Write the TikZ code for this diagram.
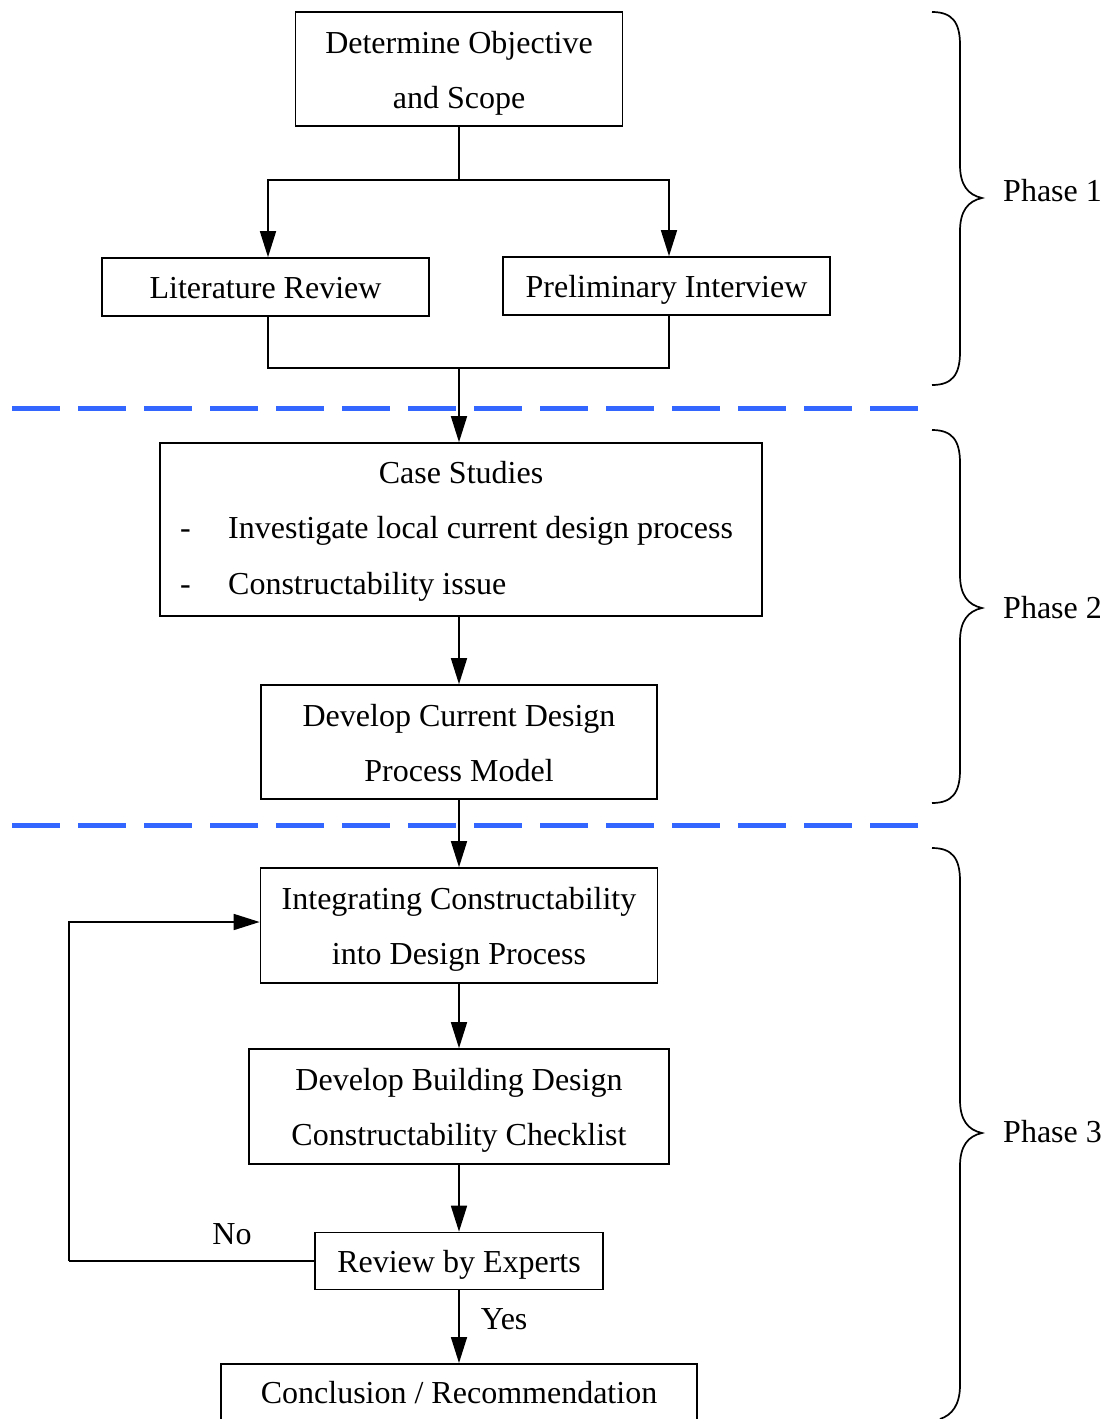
\documentclass[tikz,border=0pt]{standalone}
\usepackage{fontspec}
\setmainfont{Liberation Serif}
\usetikzlibrary{arrows.meta}
\definecolor{dashblue}{RGB}{51,102,255}
\newcommand{\mystrut}{\rule[-8pt]{0pt}{39pt}}
\begin{document}
\begin{tikzpicture}[x=1pt,y=-1pt,
  font=\fontsize{32}{55}\selectfont,
  box/.style={draw,line width=1.7pt,inner sep=0pt,align=center},
  conn/.style={line width=1.7pt},
  arr/.style={conn,-{Triangle[length=26pt,width=16pt]}},
  phasesep/.style={dashblue,line width=5pt,dash pattern=on 48pt off 18pt},
  bracestyle/.style={line width=1.7pt},
  lbl/.style={inner sep=0pt}]
\useasboundingbox (0,0) rectangle (1113,1419);

% boxes
\node[box,minimum width=327,minimum height=114] (obj) at (459,69) {\mystrut Determine Objective\\\mystrut and Scope};
\node[box,minimum width=327,minimum height=58] (lit) at (265.5,287) {\mystrut Literature Review};
\node[box,minimum width=327,minimum height=58] (pre) at (666.5,286) {\mystrut Preliminary Interview};
\node[box,minimum width=602,minimum height=173] (cs) at (461,529.5) {};
\node[lbl] (cs1) at (461,473) {Case Studies};
\node[lbl,anchor=base west] (cs2d) at (180,538) {-};
\node[lbl,anchor=base west] (cs2) at (228,538) {Investigate local current design process};
\node[lbl,anchor=base west] (cs3d) at (180,594) {-};
\node[lbl,anchor=base west] (cs3) at (228,594) {Constructability issue};
\node[box,minimum width=396,minimum height=114] (dev) at (459,742) {\mystrut Develop Current Design\\\mystrut Process Model};
\node[box,minimum width=397,minimum height=115] (int) at (459,925.5) {\mystrut Integrating Constructability\\\mystrut into Design Process};
\node[box,minimum width=420,minimum height=115] (chk) at (459,1106.5) {\mystrut Develop Building Design\\\mystrut Constructability Checklist};
\node[box,minimum width=288,minimum height=57] (rev) at (459,1261) {\mystrut Review by Experts};
\node[box,minimum width=476,minimum height=70,anchor=north] (con) at (459,1363) {};
\node[lbl] (con1) at (459,1393) {Conclusion / Recommendation};

% connectors phase 1
\coordinate (split) at (459,180);
\coordinate (join) at (459,368);
\coordinate (litx) at (268,0);
\coordinate (prex) at (669,0);
\draw[conn] (obj.south) -- (split);
\draw[arr] (split) -| (lit.north -| litx);
\draw[arr] (split) -| (pre.north -| prex);
\draw[conn] (lit.south -| litx) |- (join);
\draw[conn] (pre.south -| prex) |- (join);
\draw[arr] (join) -- (cs.north -| join);

% separators
\draw[phasesep] (12,408) -- (918,408);
\draw[phasesep] (12,825) -- (918,825);

% phase 2/3 connectors
\draw[arr] (cs.south -| dev.north) -- (dev.north);
\draw[arr] (dev.south) -- (int.north);
\draw[arr] (int.south) -- (chk.north);
\draw[arr] (chk.south) -- (rev.north);
\draw[arr] (rev.south) -- node[lbl,right=21pt,pos=0.4] (yes) {Yes} (con.north);
\coordinate (loopA) at (69,1261);
\coordinate (loopB) at (69,922);
\draw[conn] (rev.west) -- (loopA);
\draw[arr] (loopA) -- (loopB) -- (int.west |- loopB);
\node[lbl] (no) at (232,1234) {No};

% braces
\draw[bracestyle] (932,12) .. controls (952,12) and (960,22) .. (960,45) -- (960,165)
  .. controls (960,185) and (968,195) .. (982,198)
  .. controls (968,201) and (960,211) .. (960,231) -- (960,352)
  .. controls (960,375) and (952,385) .. (932,385);
\draw[bracestyle] (932,430) .. controls (952,430) and (960,440) .. (960,463) -- (960,575)
  .. controls (960,595) and (968,605) .. (982,608)
  .. controls (968,611) and (960,621) .. (960,641) -- (960,770)
  .. controls (960,793) and (952,803) .. (932,803);
\draw[bracestyle] (932,848) .. controls (952,848) and (960,858) .. (960,881) -- (960,1100)
  .. controls (960,1120) and (968,1130) .. (982,1133)
  .. controls (968,1136) and (960,1146) .. (960,1166) -- (960,1385)
  .. controls (960,1405) and (952,1415) .. (940,1419);
\node[lbl,anchor=west] (p1) at (1003,191) {Phase 1};
\node[lbl,anchor=west] (p2) at (1003,608) {Phase 2};
\node[lbl,anchor=west] (p3) at (1003,1132) {Phase 3};
\end{tikzpicture}
\end{document}
